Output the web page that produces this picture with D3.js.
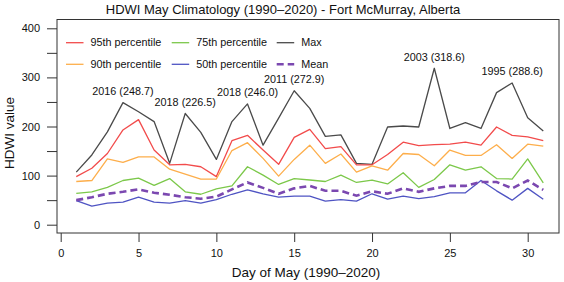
<!DOCTYPE html>
<html><head><meta charset="utf-8">
<script src="https://cdn.jsdelivr.net/npm/d3@7"></script>
<style>
body{margin:0;background:#fff;}
svg{display:block;font-family:"Liberation Sans",Arial,Helvetica,sans-serif;}
</style></head>
<body><svg id="c" width="564" height="282"></svg>
<script>
const days = [1,2,3,4,5,6,7,8,9,10,11,12,13,14,15,16,17,18,19,20,21,22,23,24,25,26,27,28,29,30,31];
const maxVals = [107,142,189,248.7,230,210,125,226.5,188,133,210,246.0,162,217,272.9,237,180,183,125,123,199,201,199,318.6,196,208,196,269,288.6,218,191];
const p95 = [98,115,145,193,214,152,122,123,118,98,171,182,152,123,178,194,155,159,122,122,143,168,161,163,164,168,162,199,182,179,171];
const p90 = [88,90,134,127,138,138,113,103,93,93,151,167,135,99,133,162,125,144,107,120,111,145,143,120,152,141,141,163,135,164,160];
const p75 = [64,67,76,90,95,80,94,67,62,73,79,118,101,82,94,91,88,101,86,91,83,106,76,92,122,111,118,94,93,134,85];
const p50 = [49,38,44,46,56,46,44,49,44,51,62,71,63,56,58,58,48,51,48,63,52,58,53,57,65,65,90,69,50,74,52];
const meanVals = [50,56,63,67,72,65,61,56,53,57,72,86,75,63,74,79,69,69,59,68,63,74,67,74,79,79,87,87,74,90,71];

const annoDays = [4,8,12,15,24,29];
const annoLabels = ["2016 (248.7)","2018 (226.5)","2018 (246.0)","2011 (272.9)","2003 (318.6)","1995 (288.6)"];

const xTicks = [0,5,10,15,20,25,30];
const yTicks = [0,50,100,150,200,250,300,350,400];

const seriesNames = ["95th percentile","75th percentile","Max","90th percentile","50th percentile","Mean"];

const svg = d3.select("#c");
const x = d3.scaleLinear().domain([0,30]).range([60.7,527.7]);
const y = d3.scaleLinear().domain([0,400]).range([224.7,28.3]);

const box = {l:57, t:19.5, r:559, b:233};

// title
svg.append("text").attr("x",283).attr("y",13.5).attr("text-anchor","middle")
  .attr("font-size",13).attr("fill","#111")
  .text("HDWI May Climatology (1990\u20132020) - Fort McMurray, Alberta");

// box
svg.append("rect").attr("x",box.l).attr("y",box.t).attr("width",box.r-box.l).attr("height",box.b-box.t)
  .attr("fill","none").attr("stroke","#333").attr("stroke-width",1);

// y axis
const yAxis = d3.axisLeft(y).tickValues(yTicks).tickSize(10).tickPadding(7)
  .tickFormat(d => d % 100 === 0 ? d : "");
const ya = svg.append("g").attr("transform",`translate(${box.l},0)`).call(yAxis);
ya.select(".domain").remove();
ya.selectAll("line").attr("stroke","#333");
ya.selectAll("text").attr("font-size",11).attr("fill","#111").attr("font-family","Liberation Sans, Arial, sans-serif");

// x axis
const xAxis = d3.axisBottom(x).tickValues(xTicks).tickSize(9).tickPadding(7);
const xa = svg.append("g").attr("transform",`translate(0,${box.b})`).call(xAxis);
xa.select(".domain").remove();
xa.selectAll("line").attr("stroke","#333");
xa.selectAll("text").attr("font-size",11).attr("fill","#111").attr("font-family","Liberation Sans, Arial, sans-serif");

// axis titles
svg.append("text").attr("x",306).attr("y",277).attr("text-anchor","middle")
  .attr("font-size",13.5).attr("fill","#111").text("Day of May (1990\u20132020)");
svg.append("text").attr("transform","translate(13.5,133) rotate(-90)").attr("text-anchor","middle")
  .attr("font-size",13.5).attr("fill","#111").text("HDWI value");

const colors = {
  "95th percentile":"#f24b4b",
  "90th percentile":"#fdae4b",
  "75th percentile":"#7cc84a",
  "50th percentile":"#4f54c3",
  "Max":"#4a4a4a",
  "Mean":"#7b48b0"
};
const data = {
  "Max":maxVals, "95th percentile":p95, "90th percentile":p90,
  "75th percentile":p75, "50th percentile":p50, "Mean":meanVals
};

const line = vals => d3.line().x((d,i)=>x(days[i])).y(d=>y(d))(vals);

["Max","95th percentile","90th percentile","75th percentile","50th percentile"].forEach(k=>{
  svg.append("path").attr("d",line(data[k])).attr("fill","none")
    .attr("stroke",colors[k]).attr("stroke-width",1.3).attr("stroke-linejoin","round");
});
svg.append("path").attr("d",line(meanVals)).attr("fill","none")
  .attr("stroke",colors["Mean"]).attr("stroke-width",2.6).attr("stroke-dasharray","7,4");

// annotations
annoDays.forEach((d,i)=>{
  svg.append("text").attr("x",x(d)).attr("y",y(maxVals[days.indexOf(d)])-7.5)
    .attr("text-anchor","middle").attr("font-size",10.8).attr("fill","#111").text(annoLabels[i]);
});

// legend
const legCols = [66,171.7,276.7];
const legRows = [42.7,64.3];
seriesNames.forEach((name,i)=>{
  const cx = legCols[i%3], cy = legRows[Math.floor(i/3)];
  const ln = svg.append("line").attr("x1",cx).attr("x2",cx+17.5).attr("y1",cy).attr("y2",cy)
    .attr("stroke",colors[name]).attr("stroke-width",name==="Mean"?2.6:1.3);
  if(name==="Mean") ln.attr("stroke-dasharray","7,4");
  svg.append("text").attr("x",cx+24.5).attr("y",cy).attr("dy","0.35em")
    .attr("font-size",10.8).attr("fill","#111").text(name);
});
</script></body></html>
